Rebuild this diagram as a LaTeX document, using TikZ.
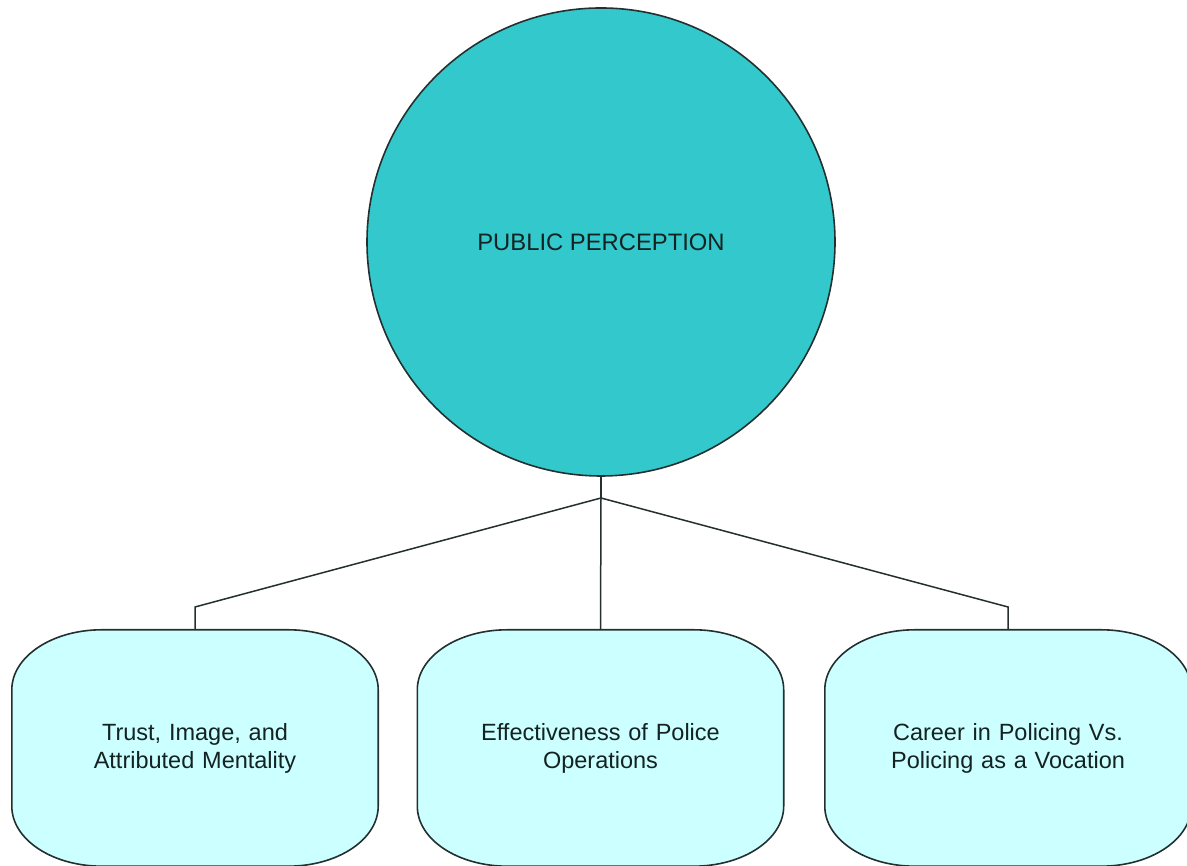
\documentclass[tikz,border=0pt]{standalone}
\usepackage{fontspec}
\setmainfont{Liberation Sans}
\usetikzlibrary{backgrounds}
\definecolor{hubfill}{HTML}{33C9CC}
\definecolor{leaffill}{HTML}{CCFFFF}
\definecolor{inkline}{HTML}{243030}
\definecolor{inktext}{HTML}{142222}
\tikzset{
  hub/.style={circle, draw=inkline, line width=1.6pt, fill=hubfill,
    minimum size=468pt, inner sep=0pt, text=inktext,
    font=\fontsize{23.8}{28}\selectfont},
  leaf/.style={rectangle, draw=none, minimum width=366pt, minimum height=236pt,
    inner sep=0pt, text width=300pt, align=center, text=inktext,
    font=\fontsize{23.5}{28}\selectfont},
  leafline/.style={draw=inkline, line width=1.6pt, fill=leaffill},
  link/.style={draw=inkline, line width=1.5pt},
}
% outline of a leaf box: straight sides joined by elliptical corners
\newcommand\leafoutline[1]{%
  \path[leafline] ([xshift=90pt]#1.north west) -- ([xshift=-90pt]#1.north east)
    arc[start angle=90, end angle=0, x radius=90pt, y radius=60pt]
    -- ([yshift=60pt]#1.south east)
    arc[start angle=0, end angle=-90, x radius=90pt, y radius=60pt]
    -- ([xshift=90pt]#1.south west)
    arc[start angle=270, end angle=180, x radius=90pt, y radius=60pt]
    -- ([yshift=-60pt]#1.north west)
    arc[start angle=180, end angle=90, x radius=90pt, y radius=60pt]
    -- cycle;}
\begin{document}
\begin{tikzpicture}[x=1pt, y=1pt]
  \useasboundingbox (0,0) rectangle (1187,866);
  \clip (0,0) rectangle (1187,866);

  \node[hub] (hub) at (601,624) {PUBLIC PERCEPTION};

  \node[leaf] (trust)  at (195,118)   {Trust, Image, and\\Attributed Mentality};
  \node[leaf] (ops)    at (600.5,118) {Effectiveness of Police\\Operations};
  \node[leaf] (career) at (1008,118)  {Career in Policing Vs.\\Policing as a Vocation};

  \begin{scope}[on background layer]
    \leafoutline{trust}
    \leafoutline{ops}
    \leafoutline{career}
  \end{scope}

  % branching connectors
  \coordinate (fork) at (601,368);
  \coordinate (bendL) at (195,259);
  \coordinate (bendR) at (1008,259);
  \draw[link] (hub.south) -- (fork);
  \draw[link] (fork) -- (bendL) -- (trust.north);
  \draw[link] (fork) -- (ops.north);
  \draw[link] (fork) -- (bendR) -- (career.north);
\end{tikzpicture}
\end{document}
